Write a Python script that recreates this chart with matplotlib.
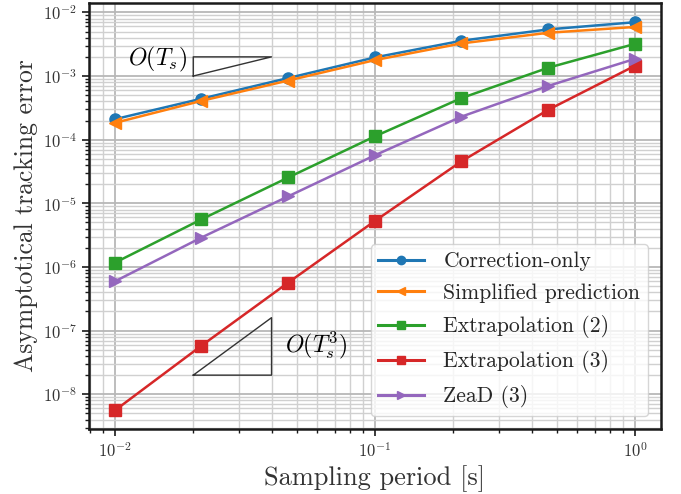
import numpy as np
import matplotlib
matplotlib.use("Agg")
import matplotlib.pyplot as plt

plt.rcParams['font.family'] = 'serif'
plt.rcParams['font.serif'] = ['cmr10']
plt.rcParams['mathtext.fontset'] = 'cm'
plt.rcParams['axes.unicode_minus'] = False
plt.rcParams['axes.formatter.use_mathtext'] = True

Ts = [0.01, 0.0215, 0.0464, 0.1, 0.215, 0.464, 1.0]
correction_only = [2.1e-4, 4.4e-4, 9.3e-4, 1.96e-3, 3.58e-3, 5.4e-3, 7.0e-3]
simplified_pred = [1.84e-4, 4.07e-4, 8.5e-4, 1.78e-3, 3.25e-3, 4.78e-3, 5.9e-3]
extrap2 = [1.17e-6, 5.6e-6, 2.55e-5, 1.13e-4, 4.5e-4, 1.35e-3, 3.2e-3]
extrap3 = [5.6e-9, 5.8e-8, 5.7e-7, 5.3e-6, 4.57e-5, 2.95e-4, 1.45e-3]
zead3 = [5.96e-7, 2.9e-6, 1.29e-5, 5.7e-5, 2.3e-4, 7.0e-4, 1.86e-3]

labels = ["Correction-only", "Simplified prediction", "Extrapolation (2)",
          "Extrapolation (3)", "ZeaD (3)"]

tri1_x = [0.02, 0.02, 0.04, 0.02]
tri1_y = [1e-3, 2e-3, 2e-3, 1e-3]
tri3_x = [0.02, 0.04, 0.04, 0.02]
tri3_y = [2e-8, 2e-8, 1.6e-7, 2e-8]

fig = plt.figure(figsize=(6.81, 4.94), dpi=100)
ax = fig.add_axes([89/681, 1 - 429/494, (661-89)/681, (429-3)/494])

lw = 1.8
ms = 8
ax.plot(Ts, correction_only, '-o', color='#1f77b4', lw=lw, ms=ms, label=labels[0])
ax.plot(Ts, simplified_pred, '-<', color='#ff7f0e', lw=lw, ms=ms, label=labels[1])
ax.plot(Ts, extrap2, '-s', color='#2ca02c', lw=lw, ms=ms, label=labels[2])
ax.plot(Ts, extrap3, '-s', color='#d62728', lw=lw, ms=ms, label=labels[3])
ax.plot(Ts, zead3, '->', color='#9467bd', lw=lw, ms=ms, label=labels[4])

ax.plot(tri1_x, tri1_y, color='#333333', lw=1)
ax.plot(tri3_x, tri3_y, color='#333333', lw=1)
ax.text(0.019, 1.85e-3, r'$O(T_s)$', ha='right', va='center', fontsize=17)
ax.text(0.045, 5.8e-8, r'$O(T_s^3)$', ha='left', va='center', fontsize=17)

ax.set_xscale('log')
ax.set_yscale('log')
ax.set_xlim(10**-2.1, 10**0.1)
ax.set_ylim(10**-8.545, 10**-1.853)

ax.grid(True, which='major', color='#b8b8b8', lw=1.3)
ax.grid(True, which='minor', color='#d0d0d0', lw=1.0)
ax.set_axisbelow(True)
for s in ax.spines.values():
    s.set_linewidth(1.8)
    s.set_color('#1a1a1a')
ax.tick_params(which='major', length=5, width=1.2, labelsize=12, colors='#1a1a1a', labelcolor='#333333')
ax.tick_params(which='minor', length=3, width=1.0, colors='#1a1a1a')

ax.set_xlabel('Sampling period [s]', fontsize=19, color='#333333')
ax.set_ylabel('Asymptotical tracking error', fontsize=18.5, color='#333333')

leg = ax.legend(loc='lower right', fontsize=15.6, framealpha=0.8, edgecolor='#cccccc',
                handlelength=2.1, borderpad=0.35, labelspacing=0.56, markerscale=0.75,
                handletextpad=0.9, borderaxespad=0.6)
for line in leg.get_lines():
    line.set_linewidth(2.2)
for t in leg.get_texts():
    t.set_color('#262626')

fig.savefig('out.png', dpi=100)
